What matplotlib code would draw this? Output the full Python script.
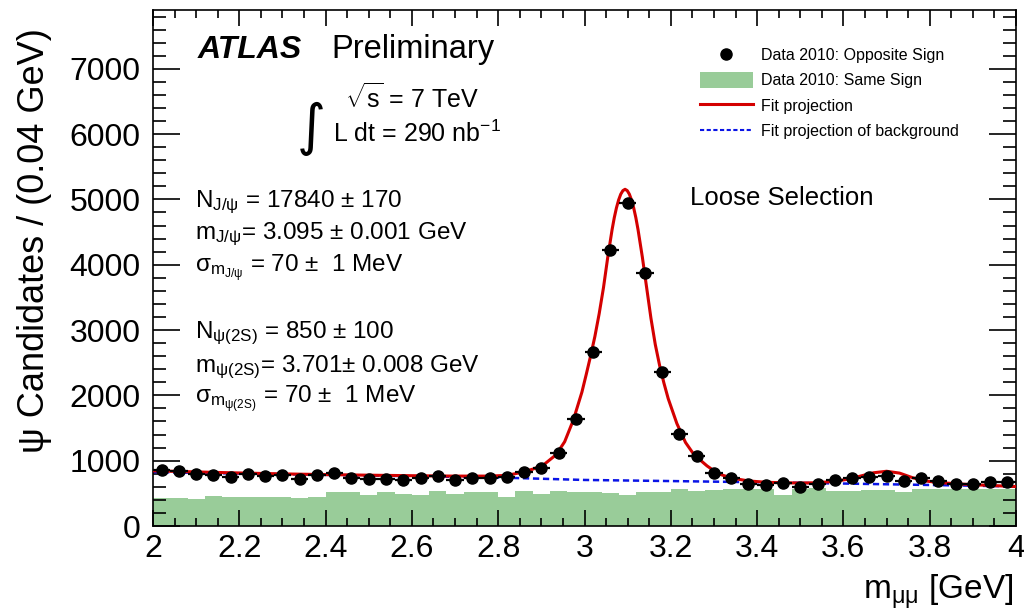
"""
ATLAS preliminary J/psi and psi(2S) dimuon mass spectrum, 2010 data (loose selection).
"""
import matplotlib

matplotlib.use("Agg")
import matplotlib.pyplot as plt
import numpy as np
from matplotlib.lines import Line2D
from matplotlib.patches import Patch
from matplotlib.ticker import MultipleLocator

plt.rcParams["font.family"] = ["Liberation Sans", "DejaVu Sans"]
plt.rcParams["mathtext.fontset"] = "custom"
plt.rcParams["mathtext.rm"] = "Liberation Sans"
plt.rcParams["mathtext.it"] = "Liberation Sans:italic"
plt.rcParams["mathtext.bf"] = "Liberation Sans:bold"
plt.rcParams["mathtext.default"] = "regular"

# binning: 50 bins of 0.04 GeV between 2 and 4 GeV
bin_edges = np.linspace(2.0, 4.0, 51)

# opposite-sign candidates per bin
os_counts = [855, 844, 793, 778, 757, 803, 763, 783, 717, 783,
             818, 732, 721, 721, 701, 732, 767, 711, 732, 732,
             752, 834, 895, 1120, 1638, 2661, 4232, 4938, 3873, 2354,
             1412, 1075, 818, 732, 650, 629, 665, 599, 640, 711,
             732, 752, 767, 691, 742, 691, 650, 650, 680, 670]

# same-sign candidates per bin
ss_counts = [435, 435, 420, 466, 450, 450, 450, 450, 435, 450,
             527, 527, 476, 522, 496, 476, 537, 496, 522, 522,
             450, 537, 496, 537, 527, 527, 512, 476, 527, 527,
             563, 537, 552, 563, 563, 563, 476, 563, 588, 537,
             537, 552, 547, 522, 563, 563, 573, 563, 563, 563]

# fit projection
fit_x = [2.00, 2.10, 2.20, 2.30, 2.40, 2.50, 2.60, 2.70, 2.78, 2.82,
         2.85, 2.88, 2.904, 2.934, 2.954, 2.974, 2.994, 3.004, 3.014, 3.024,
         3.034, 3.044, 3.054, 3.064, 3.069, 3.074, 3.079, 3.084, 3.089, 3.094,
         3.099, 3.104, 3.109, 3.114, 3.119, 3.124, 3.134, 3.144, 3.154, 3.164,
         3.174, 3.184, 3.194, 3.214, 3.234, 3.254, 3.284, 3.31, 3.34, 3.38,
         3.42, 3.46, 3.50, 3.54, 3.58, 3.61, 3.64, 3.67, 3.70, 3.73,
         3.76, 3.79, 3.82, 3.86, 3.90, 3.95, 4.00]
fit_y = [845, 828, 812, 798, 787, 778, 770, 764, 764, 775,
         815, 870, 930, 1090, 1290, 1620, 2050, 2320, 2600, 2900,
         3250, 3650, 4120, 4540, 4720, 4870, 4990, 5080, 5135, 5155,
         5135, 5080, 4990, 4870, 4720, 4540, 4120, 3650, 3180, 2780,
         2460, 2190, 1950, 1570, 1280, 1090, 920, 800, 735, 690,
         670, 662, 658, 662, 685, 715, 765, 815, 838, 810,
         740, 690, 665, 648, 632, 618, 604]

# fit projection of background
bkg_x = [2.0, 2.2, 2.4, 2.6, 2.8, 3.0, 3.2, 3.4, 3.6, 3.8, 4.0]
bkg_y = [825, 803, 783, 763, 742, 705, 688, 670, 650, 628, 606]

fit_lines = [
    ("N$_{J/ψ}$ = 17840 ± 170", 207),
    ("m$_{J/ψ}$= 3.095 ± 0.001 GeV", 239),
    ("σ$_{m_{J/ψ}}$ = 70 ±  1 MeV", 272),
    ("N$_{ψ(2S)}$ = 850 ± 100", 338),
    ("m$_{ψ(2S)}$= 3.701± 0.008 GeV", 372),
    ("σ$_{m_{ψ(2S)}}$ = 70 ±  1 MeV", 403),
]

GREEN = "#99cc99"
RED = "#d40000"
BLUE = "#0a14e6"
W, H = 1024, 616


def fx(px):
    return px / W


def fy(py):
    return 1 - py / H


fig = plt.figure(figsize=(W / 100, H / 100), dpi=100)
ax = fig.add_axes([fx(153), fy(526), (1016 - 153) / W, (526 - 10) / H])

centers = 0.5 * (bin_edges[:-1] + bin_edges[1:])
half_width = 0.5 * np.diff(bin_edges)

ax.stairs(ss_counts, bin_edges, fill=True, color=GREEN, lw=0, zorder=1)
ax.plot(bkg_x, bkg_y, color=BLUE, lw=1.8, dashes=(2.5, 1.5), zorder=2)
ax.plot(fit_x, fit_y, color=RED, lw=2.2, zorder=3)
ax.errorbar(centers, os_counts, xerr=half_width, fmt="o", color="black",
            ms=8, elinewidth=1.6, capsize=0, zorder=4)

ax.set_xlim(2, 4)
ax.set_ylim(0, 7900)
ax.xaxis.set_major_locator(MultipleLocator(0.2))
ax.xaxis.set_minor_locator(MultipleLocator(0.05))
ax.yaxis.set_major_locator(MultipleLocator(1000))
ax.yaxis.set_minor_locator(MultipleLocator(200))
ax.xaxis.set_major_formatter(plt.FuncFormatter(lambda v, p: f"{v:g}"))
ax.tick_params(axis="both", which="both", direction="in", top=True, right=True,
               width=1.2, colors="black")
ax.tick_params(axis="x", which="major", length=11.5, pad=6, labelsize=23)
ax.tick_params(axis="x", which="minor", length=5.8)
ax.tick_params(axis="y", which="major", length=19.4, pad=9, labelsize=23)
ax.tick_params(axis="y", which="minor", length=9.4)
for sp in ax.spines.values():
    sp.set_linewidth(1.2)

fig.text(fx(35), fy(28), "ψ Candidates / (0.04 GeV)", rotation=90,
         ha="center", va="top", fontsize=26)
fig.text(fx(1013), fy(600), "m$_{μμ}$ [GeV]", ha="right", va="baseline", fontsize=24)

fig.text(fx(198), fy(58), "ATLAS", fontsize=23, weight="bold", style="italic", va="baseline")
fig.text(fx(331), fy(58), "Preliminary", fontsize=23.5, va="baseline")
fig.text(fx(345), fy(108), r"$\sqrt{s}$ = 7 TeV", fontsize=18, va="baseline")
fig.text(fx(311), fy(129), "∫", fontsize=40, family="DejaVu Sans", ha="center", va="center")
fig.text(fx(333), fy(142), "L dt = 290 nb$^{-1}$", fontsize=18, va="baseline")
fig.text(fx(690), fy(205), "Loose Selection", fontsize=18.5, va="baseline")

for txt, base in fit_lines:
    fig.text(fx(195), fy(base), txt, fontsize=17.5, va="baseline")

handles = [
    Line2D([], [], marker="o", color="black", ls="none", ms=8),
    Patch(facecolor=GREEN, edgecolor="none"),
    Line2D([], [], color=RED, lw=2.2),
    Line2D([], [], color=BLUE, lw=1.5, dashes=(2, 1.2)),
]
labels = ["Data 2010: Opposite Sign", "Data 2010: Same Sign",
          "Fit projection", "Fit projection of background"]
fig.legend(handles, labels, loc="upper left", bbox_to_anchor=(fx(700), fy(47)),
           bbox_transform=fig.transFigure, frameon=False, fontsize=11.5,
           handlelength=3.3, handleheight=1.1, handletextpad=0.55,
           labelspacing=0.58, borderpad=0, borderaxespad=0)

fig.savefig("out.png", dpi=100)
